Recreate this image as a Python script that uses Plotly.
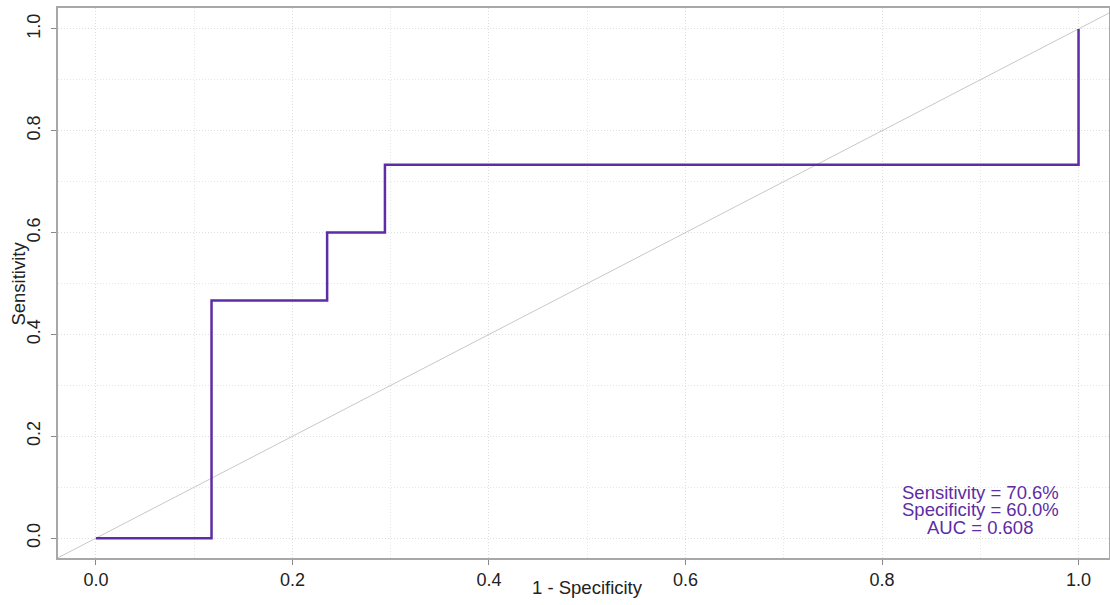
import plotly.graph_objects as go

# ROC step points (1 - specificity, sensitivity)
fpr = [0.0, 2/17, 4/17, 5/17, 1.0]
tpr = [0.0, 7/15, 9/15, 11/15, 1.0]
diag = [-0.1, 1.1]
x_ticks = [0.0, 0.2, 0.4, 0.6, 0.8, 1.0]
y_ticks = [0.0, 0.2, 0.4, 0.6, 0.8, 1.0]
stats_text = ["Sensitivity = 70.6%", "Specificity = 60.0%", "AUC = 0.608"]
stats_y = [0.0904, 0.0570, 0.0216]
x_title = "1 - Specificity"
y_title = "Sensitivity"

purple = "#5E2CA5"
font_family = "Liberation Sans, Arial"

fig = go.Figure()
fig.add_trace(go.Scatter(x=diag, y=diag, mode="lines",
                         line=dict(color="#c8c8c8", width=1), hoverinfo="skip"))
fig.add_trace(go.Scatter(x=fpr, y=tpr, mode="lines", line_shape="hv",
                         line=dict(color=purple, width=2.5)))

for txt, yy in zip(stats_text, stats_y):
    fig.add_annotation(x=0.900, y=yy, xref="x", yref="y",
                       text=txt, showarrow=False, borderpad=0,
                       font=dict(family=font_family, size=18.5, color=purple),
                       align="center", yanchor="middle", xanchor="center")

fig.add_annotation(x=0.5, y=-0.0545, xref="x", yref="paper", text=x_title,
                   showarrow=False, yanchor="middle", xanchor="center",
                   font=dict(family=font_family, size=18.5, color="#222"))
fig.add_annotation(x=-0.038, y=0.5, xref="paper", yref="y", text=y_title,
                   showarrow=False, yanchor="middle", xanchor="center", textangle=-90,
                   font=dict(family=font_family, size=18.5, color="#222"))

axis_common = dict(
    showline=True, linecolor="#a8a8a8", linewidth=1.5, mirror=True,
    ticks="outside", ticklen=5, tickcolor="#888",
    showgrid=True, gridcolor="#dedede", griddash="1px,2px", gridwidth=1,
    zeroline=False, automargin=False,
    tickfont=dict(family=font_family, size=18, color="#222"),
    minor=dict(dtick=0.1, showgrid=True, gridcolor="#e6e6e6", griddash="1px,2px", ticks=""),
)

fig.update_xaxes(range=[-0.0386, 1.031], tickvals=x_ticks,
                 ticktext=[f"{v:.1f}" for v in x_ticks], **axis_common)
fig.update_yaxes(range=[-0.039, 1.041], tickvals=y_ticks,
                 ticktext=[f"{v:.1f}" for v in y_ticks], tickangle=-90,
                 ticklabelstandoff=4, **axis_common)

fig.update_layout(width=1110, height=605, showlegend=False,
                  margin=dict(l=58, r=1, t=8, b=47),
                  plot_bgcolor="white", paper_bgcolor="white")

fig.write_html("out.html", config={"displayModeBar": False},
               post_script="document.body.style.margin='0';document.body.style.overflow='hidden';")
